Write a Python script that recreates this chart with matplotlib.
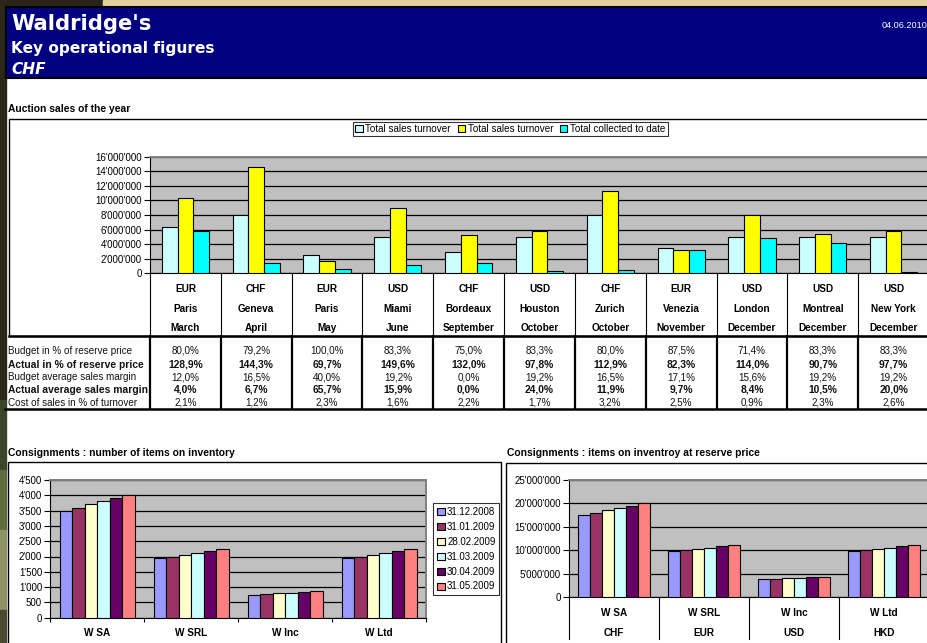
import numpy as np
import matplotlib.pyplot as plt
from matplotlib.patches import Rectangle
from matplotlib.ticker import FuncFormatter, MultipleLocator

plt.rcParams['font.family'] = ['Liberation Sans', 'DejaVu Sans']

# ---- data ----
currencies = ['EUR', 'CHF', 'EUR', 'USD', 'CHF', 'USD', 'CHF', 'EUR', 'USD', 'USD', 'USD']
cities = ['Paris', 'Geneva', 'Paris', 'Miami', 'Bordeaux', 'Houston', 'Zurich',
          'Venezia', 'London', 'Montreal', 'New York']
months = ['March', 'April', 'May', 'June', 'September', 'October', 'October',
          'November', 'December', 'December', 'December']
budget_turnover = [6.36, 7.95, 2.45, 5.0, 2.95, 5.0, 7.95, 3.5, 5.0, 5.0, 5.0]
actual_turnover = [10.27, 14.55, 1.68, 8.96, 5.23, 5.82, 11.28, 3.23, 7.95, 5.41, 5.82]
collected = [5.73, 1.45, 0.55, 1.09, 1.36, 0.36, 0.5, 3.18, 4.77, 4.18, 0.23]
top_labels = ['Total sales turnover', 'Total sales turnover', 'Total collected to date']

row_labels = ['Budget in % of reserve price', 'Actual in % of reserve price',
              'Budget average sales margin', 'Actual average sales margin',
              'Cost of sales in % of turnover']
budget_pct = ['80,0%', '79,2%', '100,0%', '83,3%', '75,0%', '83,3%', '80,0%', '87,5%', '71,4%', '83,3%', '83,3%']
actual_pct = ['128,9%', '144,3%', '69,7%', '149,6%', '132,0%', '97,8%', '112,9%', '82,3%', '114,0%', '90,7%', '97,7%']
budget_margin = ['12,0%', '16,5%', '40,0%', '19,2%', '0,0%', '19,2%', '16,5%', '17,1%', '15,6%', '19,2%', '19,2%']
actual_margin = ['4,0%', '6,7%', '65,7%', '15,9%', '0,0%', '24,0%', '11,9%', '9,7%', '8,4%', '10,5%', '20,0%']
cost_pct = ['2,1%', '1,2%', '2,3%', '1,6%', '2,2%', '1,7%', '3,2%', '2,5%', '0,9%', '2,3%', '2,6%']

entities = ['W SA', 'W SRL', 'W Inc', 'W Ltd']
entity_ccy = ['CHF', 'EUR', 'USD', 'HKD']
dates = ['31.12.2008', '31.01.2009', '28.02.2009', '31.03.2009', '30.04.2009', '31.05.2009']
items_count = [[3500, 1950, 750, 1950],
               [3600, 2000, 780, 2000],
               [3700, 2050, 800, 2050],
               [3800, 2100, 820, 2100],
               [3900, 2170, 840, 2170],
               [4000, 2230, 860, 2230]]
items_value = [[17.5, 9.8, 3.8, 9.8],
               [18.0, 10.1, 3.95, 10.1],
               [18.5, 10.4, 4.05, 10.4],
               [19.0, 10.6, 4.15, 10.6],
               [19.5, 10.9, 4.25, 10.9],
               [20.0, 11.2, 4.4, 11.2]]

top_colors = ['#CCFFFF', '#FFFF00', '#00FFFF']
date_colors = ['#9999FF', '#993366', '#FFFFCC', '#CCFFFF', '#660066', '#FF8080']

W, H = 928, 643
fig = plt.figure(figsize=(W / 100, H / 100), dpi=100)

# background layer in pixel coords
bg = fig.add_axes([0, 0, 1, 1])
bg.set_xlim(0, W)
bg.set_ylim(H, 0)
bg.axis('off')
bg.set_zorder(-1)

bg.add_patch(Rectangle((0, 0), 103, 6, color='#2a2418'))
bg.add_patch(Rectangle((103, 0), W - 103, 6, color='#E3D29E'))
bg.add_patch(Rectangle((0, 0), 6, 400, color='#2b2719'))
bg.add_patch(Rectangle((0, 400), 6, 70, color='#3d4529'))
bg.add_patch(Rectangle((0, 470), 6, 60, color='#5f6b3c'))
bg.add_patch(Rectangle((0, 530), 6, 80, color='#8f9468'))
bg.add_patch(Rectangle((0, 610), 6, 33, color='#4a4a30'))
bg.add_patch(Rectangle((6, 6.5), W, 71, facecolor='#000080', edgecolor='black', lw=1.5))
bg.text(11, 29.5, "Waldridge's", color='white', fontsize=15.2, fontweight='bold',
        family='DejaVu Sans', va='baseline')
bg.text(11, 53.5, 'Key operational figures', color='white', fontsize=11.1, fontweight='bold',
        family='DejaVu Sans', va='baseline')
bg.text(11, 73.5, 'CHF', color='white', fontsize=11.1, fontweight='bold', style='italic',
        family='DejaVu Sans', va='baseline')
bg.text(882, 26, '04.06.2010', color='white', fontsize=6.6, va='center')

bg.text(8, 109, 'Auction sales of the year', fontsize=7.4, fontweight='bold', va='center')
bg.add_patch(Rectangle((9, 119), 940, 217, facecolor='white', edgecolor='black', lw=1))
bg.plot([9, W], [336, 336], color='black', lw=1.8)
bg.plot([5, W], [408.5, 408.5], color='black', lw=1.8)

bg.text(8, 453.5, 'Consignments : number of items on inventory', fontsize=7.4,
        fontweight='bold', va='center')
bg.text(507, 453.5, 'Consignments : items on inventroy at reserve price', fontsize=7.4,
        fontweight='bold', va='center')
bg.add_patch(Rectangle((8.5, 462.3), 492.5, 200, facecolor='white', edgecolor='black', lw=1))
bg.add_patch(Rectangle((506, 463), 440, 200, facecolor='white', edgecolor='black', lw=1))


def pax(x0, y0, x1, y1):
    return fig.add_axes([x0 / W, 1 - y1 / H, (x1 - x0) / W, (y1 - y0) / H])


def style_axes(ax):
    ax.set_facecolor('#C0C0C0')
    ax.grid(axis='y', color='black', lw=0.9, zorder=1)
    ax.set_axisbelow(True)
    for s in ('top', 'right'):
        ax.spines[s].set_color('#808080')
        ax.spines[s].set_linewidth(1.4)
    ax.tick_params(axis='y', labelsize=7, length=4, width=0.8, pad=2)
    ax.yaxis.set_major_formatter(FuncFormatter(lambda v, p: f"{int(v):,}".replace(',', "'")))


# ---- top chart ----
T0, T1 = 156.5, 273.3
ax1 = pax(150, T0, 929, T1)
style_axes(ax1)
x = np.arange(len(cities)) + 0.5
bw = 0.222
for k, vals in enumerate([budget_turnover, actual_turnover, collected]):
    ax1.bar(x + (k - 1) * bw, np.array(vals) * 1e6, bw, color=top_colors[k],
            edgecolor='black', lw=0.8, label=top_labels[k], zorder=3)
ax1.set_xlim(0, len(cities))
ax1.set_ylim(0, 16e6)
ax1.yaxis.set_major_locator(MultipleLocator(2e6))
ax1.set_xticks([])

tr1 = ax1.get_xaxis_transform()


def yf1(py):
    return (T1 - py) / (T1 - T0)


for b in range(len(cities) + 1):
    ax1.plot([b, b], [0, yf1(335)], transform=tr1, clip_on=False, color='black', lw=0.8)
    ax1.plot([b, b], [yf1(336), yf1(408.5)], transform=tr1, clip_on=False, color='black', lw=1.6)
for i in range(len(cities)):
    for py, txt in ((289, currencies[i]), (308.5, cities[i]), (328, months[i])):
        ax1.text(x[i], yf1(py), txt, transform=tr1, ha='center', va='center',
                 fontsize=7.2, fontweight='bold')

table_rows = [budget_pct, actual_pct, budget_margin, actual_margin, cost_pct]
row_y = [351, 364.5, 377.5, 390, 402.5]
for r, (lab, vals) in enumerate(zip(row_labels, table_rows)):
    wt = 'bold' if r in (1, 3) else 'normal'
    fs = 7.4 if r in (1, 3) else 7.1
    bg.text(8, row_y[r], lab, fontsize=fs, fontweight=wt, va='center', color='#111111')
    for i, v in enumerate(vals):
        ax1.text(x[i], yf1(row_y[r]), v, transform=tr1, ha='center', va='center',
                 fontsize=fs, fontweight=wt, color='#111111')

ax1.legend(loc='upper left', bbox_to_anchor=(353 / W, 1 - 121.5 / H),
           bbox_transform=fig.transFigure, ncol=3, fontsize=7.1, frameon=True,
           fancybox=False, edgecolor='black', handlelength=0.75, handleheight=0.75,
           handletextpad=0.25, columnspacing=0.7, borderpad=0.25, borderaxespad=0)
ax1.get_legend().get_frame().set_linewidth(0.8)

# ---- bottom left chart ----
L0, L1 = 480, 617.7
ax2 = pax(50.5, L0, 426, L1)
style_axes(ax2)
xe = np.arange(len(entities)) + 0.5
bw2 = 0.1333
for k, vals in enumerate(items_count):
    ax2.bar(xe + (k - 2.5) * bw2, vals, bw2, color=date_colors[k], edgecolor='black',
            lw=0.8, label=dates[k], zorder=3)
ax2.set_xlim(0, len(entities))
ax2.set_ylim(0, 4500)
ax2.yaxis.set_major_locator(MultipleLocator(500))
ax2.set_xticks(range(len(entities) + 1))
ax2.set_xticklabels([])
ax2.tick_params(axis='x', length=3, width=0.8)
tr2 = ax2.get_xaxis_transform()
for i, name in enumerate(entities):
    ax2.text(xe[i], (L1 - 632.7) / (L1 - L0), name, transform=tr2, ha='center',
             va='center', fontsize=7.2, fontweight='bold')
leg2 = ax2.legend(loc='upper left', bbox_to_anchor=(433.5 / W, 1 - 503.3 / H),
                  bbox_transform=fig.transFigure, fontsize=7, frameon=True, fancybox=False,
                  edgecolor='black', handlelength=0.75, handleheight=0.75,
                  handletextpad=0.25, labelspacing=0.5, borderpad=0.4, borderaxespad=0)
leg2.get_frame().set_linewidth(0.8)

# ---- bottom right chart ----
R0, R1 = 480, 597.3
ax3 = pax(569, R0, 929, R1)
style_axes(ax3)
for k, vals in enumerate(items_value):
    ax3.bar(xe + (k - 2.5) * bw2, np.array(vals) * 1e6, bw2, color=date_colors[k],
            edgecolor='black', lw=0.8, label=dates[k], zorder=3)
ax3.set_xlim(0, len(entities))
ax3.set_ylim(0, 25e6)
ax3.yaxis.set_major_locator(MultipleLocator(5e6))
ax3.set_xticks([])
tr3 = ax3.get_xaxis_transform()


def yf3(py):
    return (R1 - py) / (R1 - R0)


for b in range(len(entities) + 1):
    ax3.plot([b, b], [0, yf3(638.5)], transform=tr3, clip_on=False, color='black', lw=0.8)
for i in range(len(entities)):
    ax3.text(xe[i], yf3(612.7), entities[i], transform=tr3, ha='center', va='center',
             fontsize=7.2, fontweight='bold')
    ax3.text(xe[i], yf3(632.7), entity_ccy[i], transform=tr3, ha='center', va='center',
             fontsize=7.2, fontweight='bold')

fig.savefig('out.png', dpi=100)
